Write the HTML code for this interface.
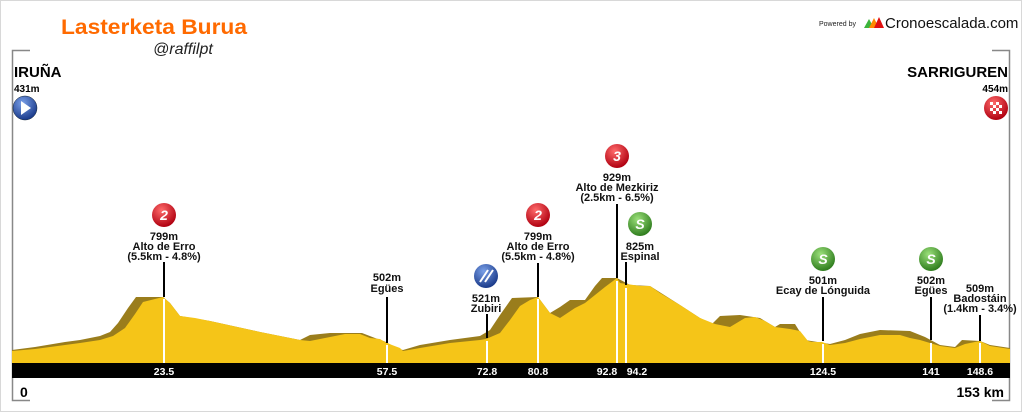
<!DOCTYPE html>
<html><head><meta charset="utf-8"><style>
body{margin:0;background:#fff}
svg{display:block}
text{font-family:"Liberation Sans",Arial,sans-serif}
</style></head><body>
<svg width="1022" height="412" viewBox="0 0 1022 412" xmlns="http://www.w3.org/2000/svg">
<defs>
<radialGradient id="gr" cx="40%" cy="30%" r="70%"><stop offset="0" stop-color="#ff6b6b"/><stop offset="1" stop-color="#b00010"/></radialGradient>
<radialGradient id="gg" cx="40%" cy="30%" r="70%"><stop offset="0" stop-color="#9be07a"/><stop offset="1" stop-color="#2f7d1e"/></radialGradient>
<radialGradient id="gb" cx="40%" cy="30%" r="70%"><stop offset="0" stop-color="#7aa0e8"/><stop offset="1" stop-color="#1a3a8a"/></radialGradient>
</defs>
<rect x="0.5" y="0.5" width="1021" height="411" fill="#fff" stroke="#d8d8d8"/>
<path d="M30 50.5H12.5V400.5H30" fill="none" stroke="#888" stroke-width="1.5"/>
<path d="M992 50.5H1009.5V400.5H992" fill="none" stroke="#888" stroke-width="1.5"/>
<text x="61" y="34" font-size="21" font-weight="bold" fill="#ff6a00" textLength="186" lengthAdjust="spacingAndGlyphs">Lasterketa Burua</text>
<text x="153" y="54" font-size="16" font-style="italic" fill="#222" font-family="Liberation Serif,serif">@raffilpt</text>
<text x="819" y="26" font-size="7" fill="#222">Powered by</text>
<polygon points="864,28 869,19 874,28" fill="#3cb43c"/><polygon points="869,28 874,18 879,28" fill="#ff8a00"/><polygon points="874,28 879,17 884,28" fill="#e01010"/>
<text x="885" y="28" font-size="15" fill="#111">Cronoescalada.com</text>
<text x="14" y="77" font-size="15" font-weight="bold">IRUÑA</text>
<text x="14" y="92" font-size="10" font-weight="bold">431m</text>
<circle cx="25" cy="108" r="12" fill="url(#gb)" stroke="#123" stroke-width="0.5"/><polygon points="21,101 21,115 31,108" fill="#fff"/>
<text x="1008" y="77" font-size="15" font-weight="bold" text-anchor="end">SARRIGUREN</text>
<text x="1008" y="92" font-size="10" font-weight="bold" text-anchor="end">454m</text>
<circle cx="996" cy="108" r="12" fill="url(#gr)"/>
<g fill="#fff"><rect x="990" y="102" width="3" height="3"/><rect x="996" y="102" width="3" height="3"/><rect x="993" y="105" width="3" height="3"/><rect x="999" y="105" width="3" height="3"/><rect x="990" y="108" width="3" height="3"/><rect x="996" y="108" width="3" height="3"/><rect x="993" y="111" width="3" height="3"/><rect x="999" y="111" width="3" height="3"/></g>
<polygon fill="#9a7d1c" points="12,363 12,350 35,347 65,342 80,340 100,336 110,332 118,323 128,308 136,297 163,297 170,303 180,316 210,321 260,332 300,340 310,335 330,333 362,333 375,338 386,342 396,348 403,350 420,345 450,340 480,336 490,330 500,315 512,298 538,297 550,313 560,307 570,300 585,300 595,286 602,278 617,278 630,285 650,286 680,305 700,318 712,324 720,316 740,315 760,318 775,327 780,324 795,324 805,340 830,344 845,340 860,334 880,330 910,331 925,337 940,345 955,347 962,340 980,341 990,345 1010,348 1010,363"/>
<polygon fill="#f5c518" points="12,363 12,351 35,349 65,345 80,343 100,340 113,336 125,328 135,314 143,302 163,297 170,303 180,316 195,318 210,321 260,332 300,340 310,341 330,337 345,334 360,334 370,338 380,339 385,342 392,345 400,348 403,351 420,348 450,343 480,340 486,339 500,333 510,320 520,306 530,300 538,297 550,313 560,318 575,308 585,303 595,295 605,287 617,278 620,283 640,286 650,286 660,293 680,305 700,318 715,324 730,327 745,318 755,317 765,321 775,327 790,329 800,331 808,341 812,342 822,342 830,345 845,343 860,339 880,335 900,335 910,338 920,340 930,343 940,346 955,348 965,344 980,341 990,346 1010,349 1010,363"/>
<rect x="12" y="363" width="998" height="15" fill="#000"/>
<g font-size="10.5" font-weight="bold" fill="#fff" text-anchor="middle">
<text x="164" y="375">23.5</text><text x="387" y="375">57.5</text><text x="487" y="375">72.8</text><text x="538" y="375">80.8</text><text x="607" y="375">92.8</text><text x="637" y="375">94.2</text><text x="823" y="375">124.5</text><text x="931" y="375">141</text><text x="980" y="375">148.6</text>
</g>
<text x="20" y="397" font-size="14" font-weight="bold">0</text>
<text x="1004" y="397" font-size="14" font-weight="bold" text-anchor="end">153 km</text>
<g stroke="#000" stroke-width="2">
<line x1="164" y1="262" x2="164" y2="297"/><line x1="387" y1="297" x2="387" y2="343"/><line x1="487" y1="314" x2="487" y2="338"/><line x1="538" y1="263" x2="538" y2="297"/><line x1="617" y1="204" x2="617" y2="278"/><line x1="626" y1="262" x2="626" y2="285"/><line x1="823" y1="297" x2="823" y2="341"/><line x1="931" y1="297" x2="931" y2="340"/><line x1="980" y1="315" x2="980" y2="341"/>
</g>
<g stroke="#fff" stroke-width="2">
<line x1="164" y1="299" x2="164" y2="363"/><line x1="387" y1="345" x2="387" y2="363"/><line x1="487" y1="341" x2="487" y2="363"/><line x1="538" y1="299" x2="538" y2="363"/><line x1="617" y1="281" x2="617" y2="363"/><line x1="626" y1="288" x2="626" y2="363"/><line x1="823" y1="344" x2="823" y2="363"/><line x1="931" y1="343" x2="931" y2="363"/><line x1="980" y1="343" x2="980" y2="363"/>
</g>
<g font-size="11" font-weight="bold" fill="#111" text-anchor="middle">
<text x="164" y="240">799m</text><text x="164" y="250">Alto de Erro</text><text x="164" y="260">(5.5km - 4.8%)</text>
<text x="387" y="281">502m</text><text x="387" y="292">Egües</text>
<text x="486" y="302">521m</text><text x="486" y="312">Zubiri</text>
<text x="538" y="240">799m</text><text x="538" y="250">Alto de Erro</text><text x="538" y="260">(5.5km - 4.8%)</text>
<text x="617" y="181">929m</text><text x="617" y="191">Alto de Mezkiriz</text><text x="617" y="201">(2.5km - 6.5%)</text>
<text x="640" y="250">825m</text><text x="640" y="260">Espinal</text>
<text x="823" y="284">501m</text><text x="823" y="294">Ecay de Lónguida</text>
<text x="931" y="284">502m</text><text x="931" y="294">Egües</text>
<text x="980" y="292">509m</text><text x="980" y="302">Badostáin</text><text x="980" y="312">(1.4km - 3.4%)</text>
</g>
<g font-size="14" font-weight="bold" font-style="italic" fill="#fff" text-anchor="middle">
<circle cx="164" cy="215" r="12" fill="url(#gr)"/><text x="164" y="220">2</text>
<circle cx="538" cy="215" r="12" fill="url(#gr)"/><text x="538" y="220">2</text>
<circle cx="617" cy="156" r="12" fill="url(#gr)"/><text x="617" y="161">3</text>
<circle cx="640" cy="224" r="12" fill="url(#gg)"/><text x="640" y="229">S</text>
<circle cx="823" cy="259" r="12" fill="url(#gg)"/><text x="823" y="264">S</text>
<circle cx="931" cy="259" r="12" fill="url(#gg)"/><text x="931" y="264">S</text>
<circle cx="486" cy="276" r="12" fill="url(#gb)"/>
</g>
<g stroke="#fff" stroke-width="2"><line x1="480" y1="282" x2="488" y2="270"/><line x1="485" y1="282" x2="493" y2="270"/></g>
</svg>
</body></html>
